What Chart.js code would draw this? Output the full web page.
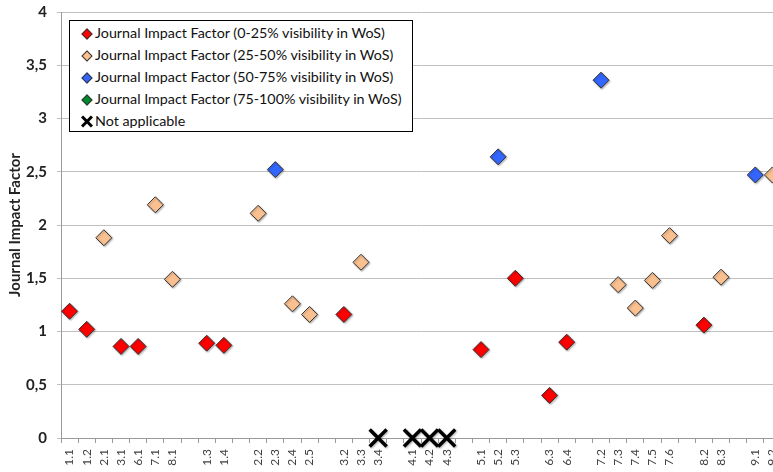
<!DOCTYPE html>
<html>
<head>
<meta charset="utf-8">
<script src="https://cdn.jsdelivr.net/npm/chart.js@4.4.1/dist/chart.umd.min.js"></script>
<style>
  html, body { margin: 0; padding: 0; background: #fff; }
  #wrap { position: relative; width: 773px; height: 472px; overflow: hidden; }
  #chart { position: absolute; left: 0; top: 0; }
  #legend {
    position: absolute; left: 69px; top: 20px; width: 344px; height: 112px;
    border: 1px solid #000; background: #fff; box-sizing: border-box;
    font-family: Lato, "Open Sans", sans-serif; font-size: 14.3px; color: #111;
    padding-top: 1px;
  }
  .item { height: 22px; line-height: 22px; white-space: nowrap; }
  .mark { display: inline-block; width: 8px; height: 8px; margin: 0 4px 0 13px;
    transform: rotate(45deg); border: 1px solid #333; box-sizing: border-box; vertical-align: 0px; }
  .cross { display: inline-block; position: relative; width: 12px; height: 12px; margin: 0 2px 0 11px; vertical-align: -1px; }
  .cross:before, .cross:after { content: ''; position: absolute; left: -1px; top: 5px; width: 14px; height: 3px; background: #000; }
  .cross:before { transform: rotate(45deg); }
  .cross:after { transform: rotate(-45deg); }
</style>
</head>
<body>
<div id="wrap">
  <canvas id="chart" width="781" height="472"></canvas>
  <div id="legend"></div>
</div>
<script>
// x categories, blank entries are the gaps between groups
const categories = ['1.1','1.2','2.1','3.1','6.1','7.1','8.1','',
  '1.3','1.4','',
  '2.2','2.3','2.4','2.5','',
  '3.2','3.3','3.4','',
  '4.1','4.2','4.3','',
  '5.1','5.2','5.3','',
  '6.3','6.4','',
  '7.2','7.3','7.4','7.5','7.6','',
  '8.2','8.3','',
  '9.1','9.2'];

const yTicks = [0, 0.5, 1, 1.5, 2, 2.5, 3, 3.5, 4];

// 0-25% visibility
const redCodes = ['1.1','1.2','3.1','6.1','1.3','1.4','3.2','5.1','5.3','6.3','6.4','8.2'];
const redValues = [1.19, 1.02, 0.86, 0.86, 0.89, 0.87, 1.16, 0.83, 1.50, 0.40, 0.90, 1.06];

// 25-50% visibility
const peachCodes = ['2.1','7.1','8.1','2.2','2.4','2.5','3.3','7.3','7.4','7.5','7.6','8.3','9.2'];
const peachValues = [1.88, 2.19, 1.49, 2.11, 1.26, 1.16, 1.65, 1.44, 1.22, 1.48, 1.90, 1.51, 2.47];

// 50-75% visibility
const blueCodes = ['2.3','5.2','7.2','9.1'];
const blueValues = [2.52, 2.64, 3.36, 2.47];

// 75-100% visibility (none)
const greenCodes = [];
const greenValues = [];

// not applicable
const naCodes = ['3.4','4.1','4.2','4.3'];
const naValues = [0, 0, 0, 0];

function pts(codes, values) {
  return codes.map((c, i) => ({ x: c, y: values[i] }));
}

function diamondSet(label, codes, values, color) {
  return {
    label: label,
    data: pts(codes, values),
    showLine: false,
    pointStyle: 'rectRot',
    pointRadius: 8,
    pointHoverRadius: 8,
    pointBackgroundColor: color,
    pointBorderColor: '#333',
    pointBorderWidth: 1,
    backgroundColor: color,
    borderColor: '#333',
    clip: false
  };
}

const datasets = [
  diamondSet('Journal Impact Factor (0-25% visibility in WoS)', redCodes, redValues, '#ff0000'),
  diamondSet('Journal Impact Factor (25-50% visibility in WoS)', peachCodes, peachValues, '#fac090'),
  diamondSet('Journal Impact Factor (50-75% visibility in WoS)', blueCodes, blueValues, '#3366ff'),
  diamondSet('Journal Impact Factor (75-100% visibility in WoS)', greenCodes, greenValues, '#008a2e'),
  {
    label: 'Not applicable',
    data: pts(naCodes, naValues),
    showLine: false,
    pointStyle: 'crossRot',
    pointRadius: 12,
    pointHoverRadius: 12,
    pointBorderColor: '#000',
    pointBorderWidth: 3.5,
    borderColor: '#000',
    clip: false
  }
];

// soft shadow under the markers
const shadowPlugin = {
  id: 'shadow',
  beforeDatasetsDraw(chart) {
    const c = chart.ctx;
    c.save();
    c.shadowColor = 'rgba(0,0,0,0.3)';
    c.shadowBlur = 2;
    c.shadowOffsetX = 1;
    c.shadowOffsetY = 1;
  },
  afterDatasetsDraw(chart) {
    chart.ctx.restore();
  }
};

const chart = new Chart(document.getElementById('chart').getContext('2d'), {
  type: 'line',
  data: { labels: categories, datasets: datasets },
  options: {
    responsive: false,
    animation: false,
    layout: { autoPadding: false, padding: { top: 12, left: 0, right: 0, bottom: 0 } },
    plugins: { legend: { display: false }, tooltip: { enabled: false } },
    scales: {
      x: {
        type: 'category',
        offset: true,
        grid: { offset: true, drawOnChartArea: false, tickLength: 5, color: '#9a9a9a' },
        border: { color: '#9a9a9a' },
        ticks: {
          autoSkip: false, maxRotation: 90, minRotation: 90, padding: 6,
          color: '#404040', font: { family: 'Lato', size: 12 }
        },
        afterFit(scale) {
          scale.height = 34;
          scale.paddingLeft = 0;
          scale.paddingRight = 0;
        }
      },
      y: {
        min: 0, max: 4,
        afterBuildTicks(scale) { scale.ticks = yTicks.map(v => ({ value: v })); },
        grid: { color: '#c0c0c0', tickLength: 4 },
        border: { color: '#9a9a9a' },
        ticks: {
          padding: 10, color: '#222',
          font: { family: 'Lato', size: 15, weight: 'bold' },
          callback: v => String(v).replace('.', ',')
        },
        title: {
          display: true, text: 'Journal Impact Factor', color: '#222',
          font: { family: 'Lato', size: 15, weight: 'bold' },
          padding: { top: 6, bottom: 0 }
        },
        afterFit(scale) {
          scale.width = 61;
          scale.paddingTop = 0;
          scale.paddingBottom = 0;
        }
      }
    }
  },
  plugins: [shadowPlugin]
});

// legend box built from the datasets
const legendEl = document.getElementById('legend');
chart.data.datasets.forEach(ds => {
  const row = document.createElement('div');
  row.className = 'item';
  const mark = document.createElement('span');
  if (ds.pointStyle === 'crossRot') {
    mark.className = 'cross';
  } else {
    mark.className = 'mark';
    mark.style.background = ds.pointBackgroundColor;
  }
  row.appendChild(mark);
  row.appendChild(document.createTextNode(ds.label));
  legendEl.appendChild(row);
});
</script>
</body>
</html>
